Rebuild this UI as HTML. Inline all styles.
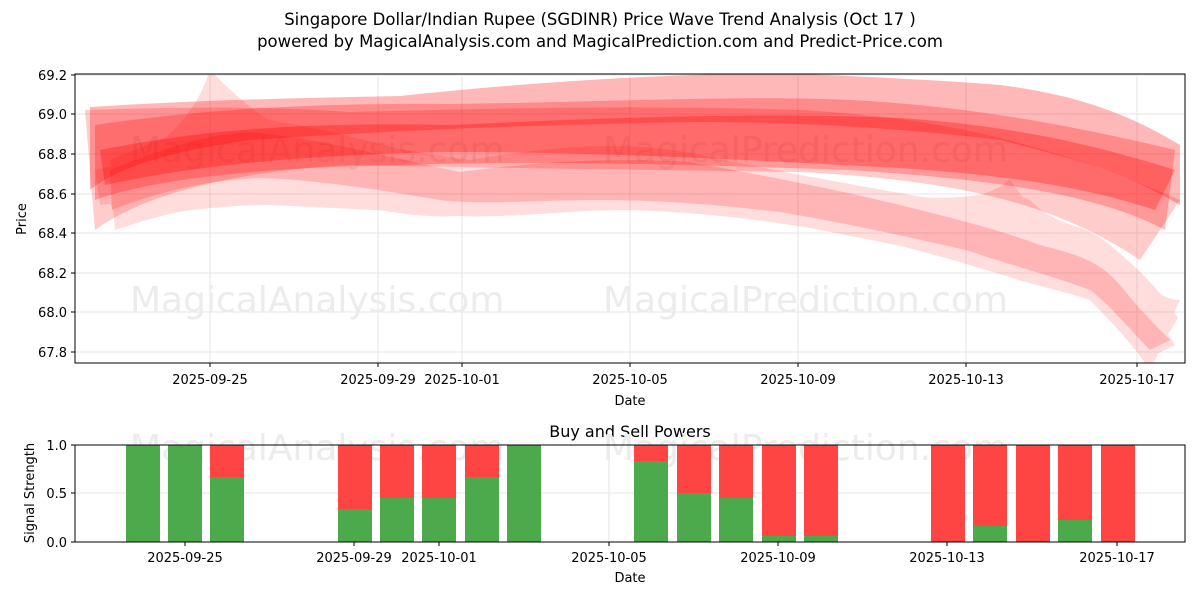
<!DOCTYPE html>
<html><head><meta charset="utf-8"><style>
body{margin:0;background:#fff;}
svg text{font-family:"DejaVu Sans","Liberation Sans",sans-serif;fill:#000;}
</style></head><body>
<svg width="1200" height="600" viewBox="0 0 1200 600" xmlns="http://www.w3.org/2000/svg">
<rect width="1200" height="600" fill="#fff"/>
<text x="600" y="25" font-size="16.5" text-anchor="middle">Singapore Dollar/Indian Rupee (SGDINR) Price Wave Trend Analysis (Oct 17 )</text>
<text x="600" y="47" font-size="16.5" text-anchor="middle">powered by MagicalAnalysis.com and MagicalPrediction.com and Predict-Price.com</text>
<g stroke="#e6e6e6" stroke-width="1">
<line x1="75" x2="1185" y1="75" y2="75"/><line x1="75" x2="1185" y1="114" y2="114"/><line x1="75" x2="1185" y1="154" y2="154"/><line x1="75" x2="1185" y1="194" y2="194"/><line x1="75" x2="1185" y1="233" y2="233"/><line x1="75" x2="1185" y1="273" y2="273"/><line x1="75" x2="1185" y1="312" y2="312"/><line x1="75" x2="1185" y1="352" y2="352"/>
<line x1="210" x2="210" y1="74" y2="363"/><line x1="378" x2="378" y1="74" y2="363"/><line x1="462" x2="462" y1="74" y2="363"/><line x1="630" x2="630" y1="74" y2="363"/><line x1="798" x2="798" y1="74" y2="363"/><line x1="966" x2="966" y1="74" y2="363"/><line x1="1137" x2="1137" y1="74" y2="363"/>
</g>
<g font-size="36">
<text x="130" y="162" style="fill:#ececec">MagicalAnalysis.com</text><text x="603" y="162" style="fill:#ececec">MagicalPrediction.com</text>
<text x="130" y="312" style="fill:#ececec">MagicalAnalysis.com</text><text x="603" y="312" style="fill:#ececec">MagicalPrediction.com</text>
</g>
<clipPath id="c1"><rect x="75" y="74" width="1110" height="289"/></clipPath>
<g clip-path="url(#c1)" fill="#ff0000">
<path opacity="0.28" d="M90 107 C200 100 300 98 400 96 C550 80 700 72 800 74 C900 78 966 82 1000 85 C1080 95 1130 115 1180 145 L1180 205 C1130 175 1080 160 1000 140 C900 128 800 122 700 122 C550 124 400 130 250 140 C180 150 120 165 90 190 Z"/>
<path opacity="0.25" d="M95 125 C200 110 300 103 450 104 C600 102 750 95 850 100 C950 105 1050 120 1175 150 L1165 230 C1100 195 1000 180 850 170 C700 165 550 160 400 165 C250 168 150 180 95 200 Z"/>
<path opacity="0.3" d="M100 150 C200 130 300 122 450 125 C600 118 750 112 900 118 C1000 125 1080 140 1175 170 L1155 210 C1080 185 1000 175 900 168 C750 160 600 152 450 152 C300 155 200 165 105 185 Z"/>
<path opacity="0.2" d="M85 110 C150 108 250 105 350 112 C500 108 650 105 800 110 C950 118 1050 145 1180 200 L1140 260 C1050 200 950 180 800 172 C650 170 500 168 350 165 C250 170 150 190 95 230 Z"/>
<g opacity="0.13">
<path d="M110 175 C150 150 190 130 210 70 C240 100 270 130 330 145 C400 160 440 185 470 175 C550 150 620 150 680 160 C750 175 800 180 860 190 C930 200 966 210 1000 230 C1040 250 1060 245 1100 260 C1130 280 1150 310 1170 330 L1150 370 C1130 340 1100 310 1080 290 C1040 290 1000 275 966 260 C900 240 850 235 800 225 C740 215 700 210 660 205 C600 205 540 210 470 215 C420 220 380 210 330 200 C280 195 240 200 210 205 C160 215 130 225 115 230 Z"/>
<path d="M110 160 C160 140 200 120 250 118 C320 125 400 150 460 165 C550 160 620 150 690 155 C760 170 830 185 900 200 C950 210 990 195 1010 180 C1040 220 1060 260 1100 240 C1130 260 1150 290 1175 310 L1160 350 C1140 320 1110 295 1090 280 C1060 285 1040 270 1010 255 C960 245 920 240 860 230 C780 215 720 200 660 195 C600 198 540 205 470 205 C420 205 360 195 300 190 C240 190 180 205 120 220 Z"/>
<path d="M105 190 C150 175 190 160 230 150 C300 148 380 165 460 180 C540 170 610 165 690 168 C760 180 830 190 900 210 C960 225 1000 240 1040 250 C1070 255 1090 265 1110 270 C1140 290 1160 320 1175 345 L1145 360 C1120 330 1100 300 1070 290 C1040 285 1000 275 960 262 C900 245 840 230 780 222 C720 212 660 210 600 210 C540 212 480 215 440 210 C380 205 320 200 260 198 C200 200 150 210 115 215 Z"/>
<path d="M95 170 C140 160 180 155 230 140 C300 140 380 150 460 162 C540 158 610 150 690 160 C760 172 830 180 900 195 C950 205 980 210 1010 225 C1050 235 1070 235 1100 255 C1140 280 1160 300 1180 300 L1160 345 C1130 325 1110 305 1080 285 C1040 280 1010 270 966 250 C900 235 840 225 780 215 C720 205 660 200 600 200 C540 205 480 212 440 208 C380 200 320 195 260 195 C200 198 150 200 100 205 Z"/>
<path d="M120 180 C170 168 210 145 260 135 C330 135 400 150 470 160 C560 145 630 140 700 155 C770 170 840 182 910 195 C960 205 990 185 1030 200 C1060 230 1080 220 1110 245 C1140 270 1160 290 1178 318 L1150 365 C1130 340 1110 320 1090 300 C1060 290 1030 285 990 270 C930 250 870 240 810 228 C750 218 690 212 630 210 C560 210 500 220 450 215 C390 210 330 208 270 205 C210 205 160 215 120 220 Z"/>
</g>
<g opacity="0.18">
<path d="M110 170 C160 150 200 135 250 132 C320 138 400 160 460 172 C550 160 620 158 690 162 C760 175 830 188 900 205 C960 220 1000 230 1040 245 C1080 255 1100 262 1120 285 C1140 310 1160 330 1170 340 L1150 350 C1130 330 1110 305 1090 290 C1050 275 1010 265 966 250 C900 235 840 222 780 212 C720 205 660 200 600 200 C540 200 480 205 440 200 C380 190 320 180 260 178 C200 180 150 195 112 210 Z"/>
</g>
</g>
<rect x="75" y="74" width="1110" height="289" fill="none" stroke="#000" stroke-width="1"/>
<g font-size="13" text-anchor="end">
<text x="67" y="80">69.2</text><text x="67" y="119">69.0</text><text x="67" y="159">68.8</text><text x="67" y="199">68.6</text><text x="67" y="238">68.4</text><text x="67" y="278">68.2</text><text x="67" y="317">68.0</text><text x="67" y="357">67.8</text>
</g>
<g stroke="#000"><line x1="71" x2="75" y1="75" y2="75"/><line x1="71" x2="75" y1="114" y2="114"/><line x1="71" x2="75" y1="154" y2="154"/><line x1="71" x2="75" y1="194" y2="194"/><line x1="71" x2="75" y1="233" y2="233"/><line x1="71" x2="75" y1="273" y2="273"/><line x1="71" x2="75" y1="312" y2="312"/><line x1="71" x2="75" y1="352" y2="352"/>
<line x1="210" x2="210" y1="363" y2="367"/><line x1="378" x2="378" y1="363" y2="367"/><line x1="462" x2="462" y1="363" y2="367"/><line x1="630" x2="630" y1="363" y2="367"/><line x1="798" x2="798" y1="363" y2="367"/><line x1="966" x2="966" y1="363" y2="367"/><line x1="1137" x2="1137" y1="363" y2="367"/></g>
<g font-size="13" text-anchor="middle">
<text x="210" y="384">2025-09-25</text><text x="378" y="384">2025-09-29</text><text x="462" y="384">2025-10-01</text><text x="630" y="384">2025-10-05</text><text x="798" y="384">2025-10-09</text><text x="966" y="384">2025-10-13</text><text x="1137" y="384">2025-10-17</text>
<text x="630" y="405">Date</text>
</g>
<text transform="translate(26,219) rotate(-90)" font-size="13" text-anchor="middle">Price</text>
<text x="630" y="437" font-size="16" text-anchor="middle">Buy and Sell Powers</text>
<g stroke="#e6e6e6"><line x1="75" x2="1185" y1="493" y2="493"/><line x1="185" x2="185" y1="445" y2="542"/><line x1="354" x2="354" y1="445" y2="542"/><line x1="439" x2="439" y1="445" y2="542"/><line x1="609" x2="609" y1="445" y2="542"/><line x1="778" x2="778" y1="445" y2="542"/><line x1="947" x2="947" y1="445" y2="542"/><line x1="1117" x2="1117" y1="445" y2="542"/></g>
<g font-size="36"><text x="130" y="460" style="fill:#ececec">MagicalAnalysis.com</text><text x="603" y="460" style="fill:#ececec">MagicalPrediction.com</text></g>
<g>
<rect x="126" y="445" width="34" height="97" fill="#4caa4c"/>
<rect x="168" y="445" width="34" height="97" fill="#4caa4c"/>
<rect x="210" y="445" width="34" height="32" fill="#ff4444"/><rect x="210" y="477" width="34" height="65" fill="#4caa4c"/>
<rect x="338" y="445" width="34" height="64" fill="#ff4444"/><rect x="338" y="509" width="34" height="33" fill="#4caa4c"/>
<rect x="380" y="445" width="34" height="53" fill="#ff4444"/><rect x="380" y="498" width="34" height="44" fill="#4caa4c"/>
<rect x="422" y="445" width="34" height="53" fill="#ff4444"/><rect x="422" y="498" width="34" height="44" fill="#4caa4c"/>
<rect x="465" y="445" width="34" height="32" fill="#ff4444"/><rect x="465" y="477" width="34" height="65" fill="#4caa4c"/>
<rect x="507" y="445" width="34" height="97" fill="#4caa4c"/>
<rect x="634" y="445" width="34" height="16" fill="#ff4444"/><rect x="634" y="461" width="34" height="81" fill="#4caa4c"/>
<rect x="677" y="445" width="34" height="48" fill="#ff4444"/><rect x="677" y="493" width="34" height="49" fill="#4caa4c"/>
<rect x="719" y="445" width="34" height="53" fill="#ff4444"/><rect x="719" y="498" width="34" height="44" fill="#4caa4c"/>
<rect x="762" y="445" width="34" height="91" fill="#ff4444"/><rect x="762" y="536" width="34" height="6" fill="#4caa4c"/>
<rect x="804" y="445" width="34" height="91" fill="#ff4444"/><rect x="804" y="536" width="34" height="6" fill="#4caa4c"/>
<rect x="931" y="445" width="34" height="97" fill="#ff4444"/>
<rect x="973" y="445" width="34" height="81" fill="#ff4444"/><rect x="973" y="526" width="34" height="16" fill="#4caa4c"/>
<rect x="1016" y="445" width="34" height="97" fill="#ff4444"/>
<rect x="1058" y="445" width="34" height="75" fill="#ff4444"/><rect x="1058" y="520" width="34" height="22" fill="#4caa4c"/>
<rect x="1101" y="445" width="34" height="97" fill="#ff4444"/>
</g>
<rect x="75" y="445" width="1110" height="97" fill="none" stroke="#000"/>
<g font-size="13" text-anchor="end"><text x="67" y="450">1.0</text><text x="67" y="498">0.5</text><text x="67" y="547">0.0</text></g>
<g stroke="#000"><line x1="71" x2="75" y1="445" y2="445"/><line x1="71" x2="75" y1="493" y2="493"/><line x1="71" x2="75" y1="542" y2="542"/>
<line x1="185" x2="185" y1="542" y2="546"/><line x1="354" x2="354" y1="542" y2="546"/><line x1="439" x2="439" y1="542" y2="546"/><line x1="609" x2="609" y1="542" y2="546"/><line x1="778" x2="778" y1="542" y2="546"/><line x1="947" x2="947" y1="542" y2="546"/><line x1="1117" x2="1117" y1="542" y2="546"/></g>
<g font-size="13" text-anchor="middle">
<text x="185" y="562">2025-09-25</text><text x="354" y="562">2025-09-29</text><text x="439" y="562">2025-10-01</text><text x="609" y="562">2025-10-05</text><text x="778" y="562">2025-10-09</text><text x="947" y="562">2025-10-13</text><text x="1117" y="562">2025-10-17</text>
<text x="630" y="582">Date</text></g>
<text transform="translate(34,493) rotate(-90)" font-size="13" text-anchor="middle">Signal Strength</text>
</svg>
</body></html>
